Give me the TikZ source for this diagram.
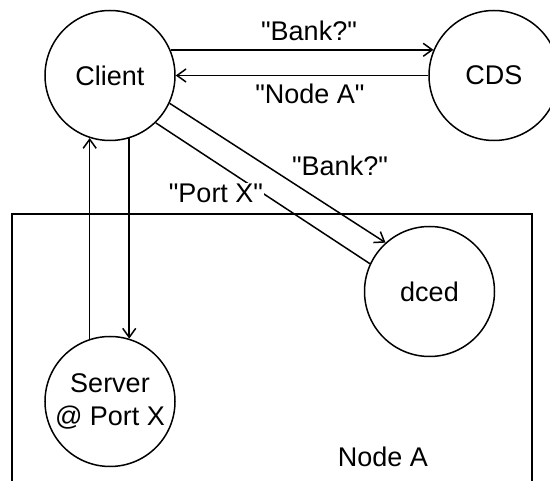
\documentclass[tikz,border=0pt]{standalone}
\usepackage{fontspec}
\setmainfont{Liberation Sans}[Ligatures=TeXOff]
\usetikzlibrary{arrows.meta}
\begin{document}
\begin{tikzpicture}[x=1pt,y=-1pt,
  proc/.style={circle,draw,line width=1.5pt,minimum size=130pt,inner sep=0pt,align=center,font=\fontsize{27}{33}\selectfont},
  lbl/.style={font=\fontsize{27}{32}\selectfont,inner sep=1pt},
  conn/.style={line width=1.5pt},
  arr/.style={conn,-{Straight Barb[length=9pt,width=13pt,line width=1.5pt]}},
  box/.style={draw,line width=1.7pt,anchor=north west,minimum width=520pt,minimum height=300pt,inner sep=0pt,outer sep=0pt}]
\useasboundingbox (0,0) rectangle (550,481);
\node[box] (nodeAbox) at (12,214) {};
\node[proc] (client) at (110,75.5) {Client};
\node[proc] (cds) at (494,75.5) {CDS};
\node[proc] (dced) at (429.5,291.5) {dced};
\node[proc] (server) at (110,401.5) {Server\\@ Port X};
\draw[arr] (client.23) -- (cds.157);
\draw[arr] (cds.180) -- (client.0);
\draw[arr] (client.-25) -- (dced.132.5);
\draw[conn] (dced.155) -- (client.-46);
\draw[arr] (server.108) -- (client.-108);
\draw[arr] (client.-73) -- (server.73);
\node[lbl] (lbankA) at (309,31) {"Bank?"};
\node[lbl] (lnodeA) at (310,94) {"Node A"};
\node[lbl] (lbankB) at (340,166) {"Bank?"};
\node[lbl,fill=white] (lport) at (216,193) {"Port X"};
\node[lbl] (boxlabel) at (383,457) {Node A};
\end{tikzpicture}
\end{document}
